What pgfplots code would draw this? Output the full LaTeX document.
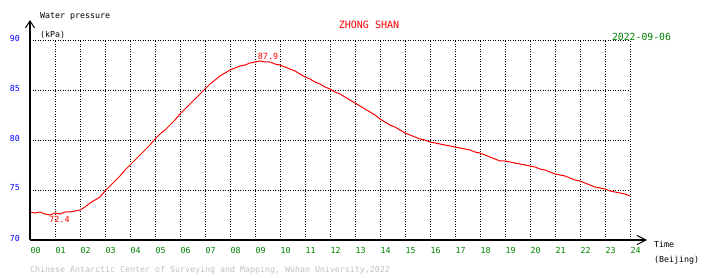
\documentclass[border=0pt]{standalone}
\usepackage{pgfplots}
\pgfplotsset{compat=1.18}
\usepackage{fontspec}
\setmainfont{DejaVu Sans Mono}
\usetikzlibrary{arrows.meta}
\definecolor{tblue}{RGB}{0,0,255}
\definecolor{tgreen}{RGB}{0,128,0}
\definecolor{tred}{RGB}{255,0,0}
\definecolor{tgray}{RGB}{192,192,192}
\pgfplotstableread{
h p
0.0 72.8
0.2 72.7
0.4 72.8
0.6 72.6
0.8 72.5
1.0 72.7
1.2 72.6
1.4 72.8
1.6 72.8
1.8 72.9
2.0 73.0
2.2 73.3
2.4 73.7
2.6 74.0
2.8 74.3
3.0 74.9
3.2 75.4
3.4 75.9
3.6 76.4
3.8 77.0
4.0 77.5
4.2 78.0
4.4 78.5
4.6 79.0
4.8 79.5
5.0 80.1
5.2 80.6
5.4 81.0
5.6 81.5
5.8 82.0
6.0 82.6
6.2 83.1
6.4 83.6
6.6 84.1
6.8 84.6
7.0 85.1
7.2 85.6
7.4 86.0
7.6 86.4
7.8 86.7
8.0 87.0
8.2 87.2
8.4 87.4
8.6 87.5
8.8 87.7
9.0 87.8
9.2 87.9
9.4 87.8
9.6 87.8
9.8 87.6
10.0 87.5
10.2 87.3
10.4 87.1
10.6 86.9
10.8 86.6
11.0 86.3
11.2 86.1
11.4 85.8
11.6 85.6
11.8 85.3
12.0 85.1
12.2 84.8
12.4 84.6
12.6 84.3
12.8 84.0
13.0 83.7
13.2 83.4
13.4 83.1
13.6 82.8
13.8 82.5
14.0 82.1
14.2 81.8
14.4 81.5
14.6 81.3
14.8 81.0
15.0 80.7
15.2 80.5
15.4 80.3
15.6 80.1
15.8 80.0
16.0 79.8
16.2 79.7
16.4 79.6
16.6 79.5
16.8 79.4
17.0 79.3
17.2 79.2
17.4 79.1
17.6 79.0
17.8 78.8
18.0 78.7
18.2 78.5
18.4 78.3
18.6 78.1
18.8 77.9
19.0 77.9
19.2 77.8
19.4 77.7
19.6 77.6
19.8 77.5
20.0 77.4
20.2 77.3
20.4 77.1
20.6 77.0
20.8 76.8
21.0 76.6
21.2 76.5
21.4 76.4
21.6 76.2
21.8 76.0
22.0 75.9
22.2 75.7
22.4 75.5
22.6 75.3
22.8 75.2
23.0 75.1
23.2 74.9
23.4 74.8
23.6 74.7
23.8 74.6
24.0 74.4
}\pressure
\begin{document}
\begin{tikzpicture}
\useasboundingbox (-30pt,-38pt) rectangle (680pt,240pt);
\begin{axis}[
  at={(0pt,0pt)}, anchor=south west,
  scale only axis, width=600pt, height=200pt,
  xmin=0, xmax=24, ymin=70, ymax=90,
  axis line style={draw=none},
  clip=false,
  xtick={0,1,...,24},
  xticklabels={00,01,02,03,04,05,06,07,08,09,10,11,12,13,14,15,16,17,18,19,20,21,22,23,24},
  ytick={70,75,80,85,90},
  yticklabels={70,75,80,85,90},
  major tick length=0pt,
  tick style={draw=none},
  grid=major,
  major grid style={black, line width=0.8pt, dash pattern=on 1pt off 1.5pt},
  xticklabel style={anchor=north west, text=tgreen, font=\fontsize{8.3}{10}\selectfont, inner sep=0pt, xshift=0.5pt, yshift=-7pt},
  yticklabel style={anchor=east, text=tblue, font=\fontsize{8.3}{10}\selectfont, inner sep=0pt, xshift=-10pt, yshift=2pt},
]
\addplot[tred, line width=1pt, mark=none] table[x=h, y=p] {\pressure};
\draw[black, line width=1.6pt, -{Straight Barb[length=7pt,width=9pt,line width=1pt]}] (axis cs:0,70) -- (axis cs:0,92);
\draw[black, line width=1.6pt, -{Straight Barb[length=9pt,width=9pt,line width=1pt]}] (axis cs:0,70) -- (axis cs:24.68,70);
\node[text=tred, inner sep=0pt, font=\fontsize{8.5}{10}\selectfont] at (axis cs:9.52,88.4) {87.9};
\node[text=tred, inner sep=0pt, font=\fontsize{8.5}{10}\selectfont] at (axis cs:1.18,72.1) {72.4};
\end{axis}
\node[anchor=west, inner sep=0pt, font=\fontsize{8.3}{10}\selectfont] at (10pt,223.5pt) {Water pressure};
\node[anchor=west, inner sep=0pt, font=\fontsize{8.3}{10}\selectfont] at (10pt,205.5pt) {(kPa)};
\node[inner sep=0pt, text=tred, font=\fontsize{10}{12}\selectfont] at (339pt,215pt) {ZHONG SHAN};
\node[inner sep=0pt, text=tgreen, font=\fontsize{9.8}{12}\selectfont] at (611.5pt,203.5pt) {2022-09-06};
\node[anchor=west, inner sep=0pt, font=\fontsize{8.3}{10}\selectfont] at (624pt,-4pt) {Time};
\node[anchor=west, inner sep=0pt, font=\fontsize{8.3}{10}\selectfont] at (624pt,-20pt) {(Beijing)};
\node[anchor=west, inner sep=0pt, text=tgray, font=\fontsize{8.3}{10}\selectfont] at (0pt,-30pt) {Chinese Antarctic Center of Surveying and Mapping, Wuhan University,2022};
\end{tikzpicture}
\end{document}
